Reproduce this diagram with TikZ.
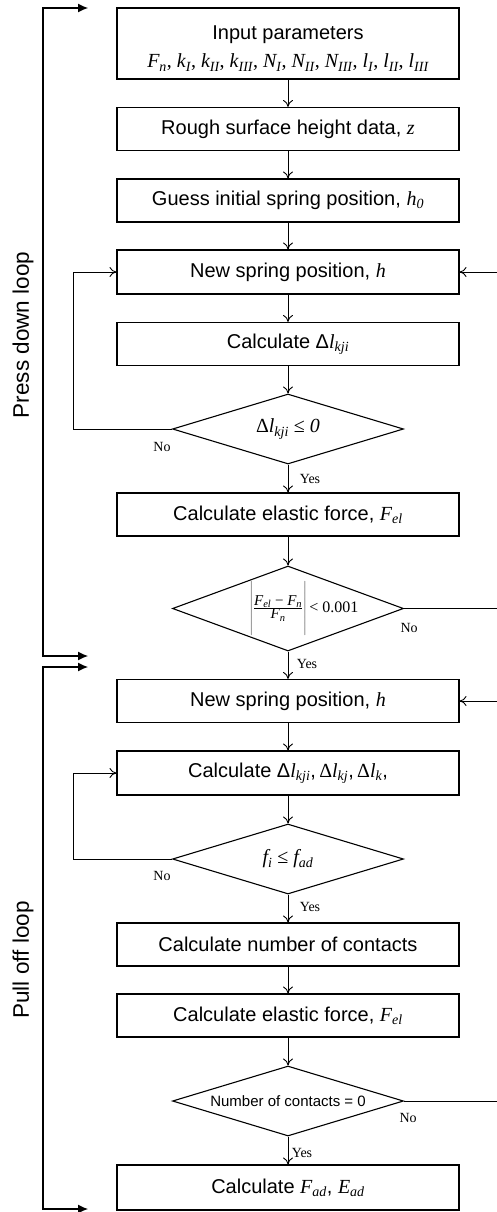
\documentclass[tikz,border=0pt]{standalone}
\usepackage{fontspec}
\setmainfont{Liberation Sans}
\newfontfamily\tnr{Liberation Serif}
\usetikzlibrary{shapes.geometric,arrows.meta}
\newcommand\vv[2]{{\tnr\itshape #1\textsubscript{#2}}}
\newcommand\vi[1]{{\tnr\itshape #1}}
\newcommand\fracexpr{{\fontsize{15}{16}\selectfont$\left|\rule[-23pt]{0pt}{50pt}{\hbox{\vv{F}{el} − \vv{F}{n}}\over\hbox{\vv{F}{n}}}\right|$}\,< 0.001}
\begin{document}
\begin{tikzpicture}[x=1pt,y=-1pt,
 box/.style={draw,line width=1.1pt,minimum width=342pt,minimum height=43pt,inner sep=0pt,align=center,font=\fontsize{20}{30}\selectfont},
 dec/.style={draw,line width=1.1pt,shape=diamond,inner sep=0pt,minimum width=231pt,minimum height=70pt},
 arr/.style={line width=0.9pt,-{To[length=7pt,width=10pt]}},
 lp/.style={line width=1.1pt,{Latex[length=10pt,width=9pt]}-{Latex[length=10pt,width=9pt]}},
 lbl/.style={font=\tnr\fontsize{14}{16}\selectfont,inner sep=0pt},
 side/.style={rotate=90,font=\fontsize{22.5}{26}\selectfont,inner sep=0pt}]
\useasboundingbox (0,0) rectangle (497,1212);
\clip (0,0) rectangle (497,1212);
\coordinate (lx) at (43,0);
\coordinate (ix) at (73,0);
\coordinate (rx) at (499,0);

\node[box,minimum height=71pt] (b1) at (288,43.5) {\rule{0pt}{24pt}Input parameters\\[-2pt]{\tnr\vv{F}{n}, \vv{k}{I}, \vv{k}{II}, \vv{k}{III}, \vv{N}{I}, \vv{N}{II}, \vv{N}{III}, \vv{l}{I}, \vv{l}{II}, \vv{l}{III}}};
\node[box] (b2) at (288,129) {Rough surface height data, \vi{z}};
\node[box] (b3) at (288,200.5) {Guess initial spring position, \vv{h}{0}};
\node[box,minimum height=44pt] (b4) at (288,272) {New spring position, \vi{h}};
\node[box] (b5) at (288,344) {Calculate Δ\vv{l}{kji}};
\node[dec,label={[font=\fontsize{20}{24}\selectfont]center:{\tnr Δ\vv{l}{kji} ≤ \textit{0}}}] (d1) at (288,429) {};
\node[box] (b6) at (288,514.5) {Calculate elastic force, \vv{F}{el}};
\node[dec,minimum height=85pt,label={[font=\tnr\fontsize{16}{18}\selectfont,xshift=16pt]center:\fracexpr}] (d2) at (288,608.5) {};
\node[box] (b7) at (288,701) {New spring position, \vi{h}};
\node[box,minimum height=44pt] (b8) at (288,773) {Calculate Δ\vv{l}{kji},\,{\tnr Δ}\vv{l}{kj},\,{\tnr Δ}\vv{l}{k},};
\node[dec,label={[font=\fontsize{20}{24}\selectfont]center:{\tnr\vv{f}{i} ≤ \vv{f}{ad}}}] (d3) at (288,859) {};
\node[box] (b9) at (288,944.5) {Calculate number of contacts};
\node[box] (b10) at (288,1015.5) {Calculate elastic force, \vv{F}{el}};
\node[dec,label={[font=\fontsize{15}{18}\selectfont]center:Number of contacts = 0}] (d4) at (288,1101) {};
\node[box,minimum height=45pt] (b11) at (288,1187.5) {Calculate \vv{F}{ad}, \vv{E}{ad}};

\node[side] (pdl) at (23,335) {Press down loop};
\node[side] (pol) at (23,960) {Pull off loop};

\draw[arr] (b1) -- (b2);
\draw[arr] (b2) -- (b3);
\draw[arr] (b3) -- (b4);
\draw[arr] (b4) -- (b5);
\draw[arr] (b5) -- (d1);
\draw[arr] (d1) -- (b6);
\draw[arr] (b6) -- (d2);
\draw[arr] (d2) -- (b7);
\draw[arr] (b7) -- (b8);
\draw[arr] (b8) -- (d3);
\draw[arr] (d3) -- (b9);
\draw[arr] (b9) -- (b10);
\draw[arr] (b10) -- (d4);
\draw[arr] (d4) -- (b11);

\draw[arr] (d1.west) -- (d1.west -| ix) |- (b4.west);
\draw[arr] (d3.west) -- (d3.west -| ix) |- (b8.west);
\draw[arr] (d2.east) -- (d2.east -| rx) |- (b4.east);
\draw[arr] (d4.east) -- (d4.east -| rx) |- (b7.east);

\node[lbl] (n1) at ([xshift=-10pt,yshift=-18pt]d1.west) {No};
\node[lbl] (y1) at ([xshift=22pt,yshift=-14pt]d1.south) {Yes};
\node[lbl] (n2) at ([xshift=5pt,yshift=-19.5pt]d2.east) {No};
\node[lbl] (y2) at ([xshift=19pt,yshift=-12pt]d2.south) {Yes};
\node[lbl] (n3) at ([xshift=-10pt,yshift=-17pt]d3.west) {No};
\node[lbl] (y3) at ([xshift=22pt,yshift=-12pt]d3.south) {Yes};
\node[lbl] (n4) at ([xshift=4pt,yshift=-17pt]d4.east) {No};
\node[lbl] (y4) at ([xshift=14pt,yshift=-16pt]d4.south) {Yes};

\coordinate (pa) at (88,8);
\coordinate (pb) at (88,656);
\coordinate (pc) at (88,667);
\coordinate (pd) at (88,1209);
\draw[lp] (pa) -- (pa -| lx) -- (pb -| lx) -- (pb);
\draw[lp] (pc) -- (pc -| lx) -- (pd -| lx) -- (pd);
\end{tikzpicture}
\end{document}
